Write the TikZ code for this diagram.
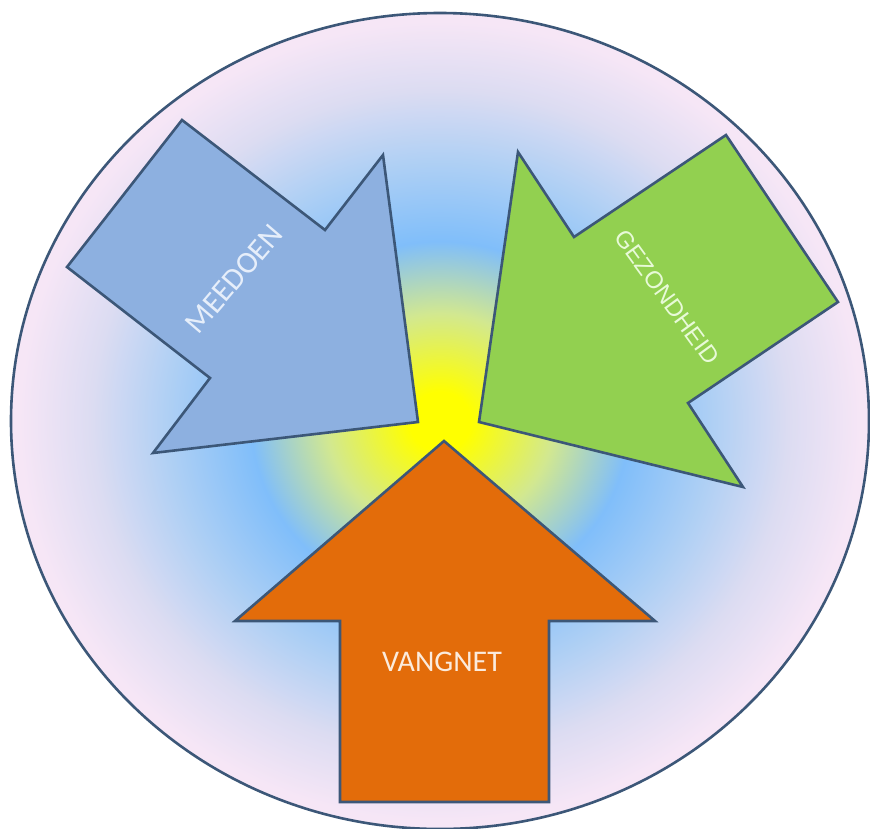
\documentclass[tikz,border=0pt]{standalone}
\usepackage{fontspec}
\setmainfont{Carlito}
\newfontfamily\arialf{Liberation Sans}
\definecolor{glowY}{HTML}{FFFF00}
\definecolor{glowYG}{HTML}{D2E890}
\definecolor{glowB}{HTML}{80BEFA}
\definecolor{glowPB}{HTML}{B0D0F4}
\definecolor{glowL}{HTML}{DCDCF2}
\definecolor{glowP}{HTML}{F6E6F6}
\definecolor{edge}{HTML}{3C5778}
\definecolor{meeFill}{HTML}{8DB0E0}
\definecolor{gezFill}{HTML}{92D050}
\definecolor{vanFill}{HTML}{E36C0A}
\definecolor{meeText}{HTML}{E6EEFA}
\definecolor{gezText}{HTML}{E8FAD8}
\definecolor{vanText}{HTML}{FBEBDD}
\pgfdeclareradialshading{glow}{\pgfpoint{0bp}{0bp}}{%
  color(0bp)=(glowY); color(1.8bp)=(glowY); color(6.6bp)=(glowYG);
  color(11bp)=(glowB); color(16bp)=(glowPB); color(20.3bp)=(glowL);
  color(24.5bp)=(glowP); color(50bp)=(glowP)}
\tikzset{
  arrowshape/.style={draw=edge, line width=2.6pt, line join=miter},
  label/.style={inner sep=0pt, font=\fontsize{30}{30}\selectfont}
}
\begin{document}
\begin{tikzpicture}[x=1pt,y=-1pt]
\useasboundingbox (0,0) rectangle (870,828);
\fill[white] (0,0) rectangle (870,828);
% background disc
\shade[shading=glow] (440,421) ellipse [x radius=429, y radius=408];
\draw[edge, line width=2.6pt] (440,421) ellipse [x radius=429, y radius=408];
% MEEDOEN arrow
\draw[arrowshape, fill=meeFill] (182,120) -- (325,230) -- (383,155) -- (418,422)
  -- (153,453) -- (210,378) -- (67,267) -- cycle;
% GEZONDHEID arrow
\draw[arrowshape, fill=gezFill] (726,135) -- (838,302) -- (688,403) -- (743,487)
  -- (479,422) -- (518,152) -- (574,237) -- cycle;
% VANGNET arrow
\draw[arrowshape, fill=vanFill] (444,441) -- (655,621) -- (549,621) -- (549,802)
  -- (340,802) -- (340,621) -- (235,621) -- cycle;
% labels
\node[label, text=meeText, rotate=49.5, font=\fontsize{31}{31}\selectfont] (mee) at (234,279) {MEEDOEN};
\node[label, text=gezText, rotate=-54, font=\arialf\fontsize{24}{24}\selectfont] (gez) at (667,297) {GEZONDHEID};
\node[label, text=vanText] (van) at (442,662) {VANGNET};
\end{tikzpicture}
\end{document}
